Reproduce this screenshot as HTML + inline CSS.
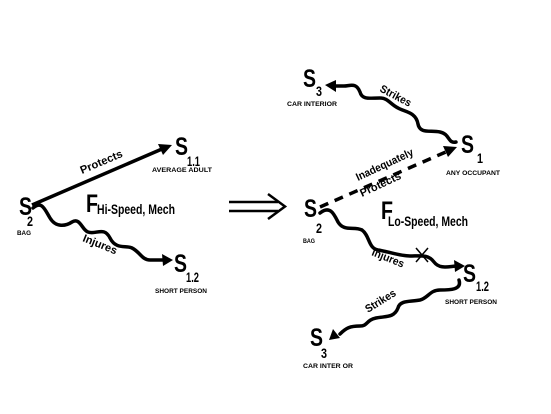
<!DOCTYPE html>
<html><head><meta charset="utf-8"><style>
html,body{margin:0;padding:0;background:#fff}
svg{display:block}
text{font-family:"Liberation Sans",sans-serif;font-weight:bold;fill:#000}
.S{font-size:25px}
.sub{font-size:14px}
.sm{font-size:6px}
.lb{font-size:11px;font-weight:bold}
.w{fill:none;stroke:#000;stroke-width:3.5;stroke-linecap:round}
</style></head><body>
<svg width="551" height="414" viewBox="0 0 551 414" xmlns="http://www.w3.org/2000/svg">
<!-- LEFT -->
<text class="S" x="19" y="215" textLength="13" lengthAdjust="spacingAndGlyphs">S</text>
<text class="sub" x="27" y="226" textLength="6" lengthAdjust="spacingAndGlyphs">2</text>
<text class="sm" x="17" y="235" textLength="14" lengthAdjust="spacingAndGlyphs">BAG</text>
<line x1="32" y1="205" x2="162" y2="149" stroke="#000" stroke-width="3.5"/>
<polygon points="172,145 158,144 163,155" fill="#000"/>
<text class="lb" transform="translate(82,174) rotate(-23)" textLength="45" lengthAdjust="spacingAndGlyphs">Protects</text>
<text class="S" x="175" y="155" textLength="13" lengthAdjust="spacingAndGlyphs">S</text>
<text class="sub" x="187" y="166" textLength="13" lengthAdjust="spacingAndGlyphs">1.1</text>
<text class="sm" x="152" y="172" textLength="60" lengthAdjust="spacingAndGlyphs">AVERAGE ADULT</text>
<text class="S" x="86" y="212" textLength="12" lengthAdjust="spacingAndGlyphs">F</text>
<text class="sub" x="97" y="214" textLength="78" lengthAdjust="spacingAndGlyphs">Hi-Speed, Mech</text>
<path class="w" d="M33,208 C42,200 45,210 50,218 C56,228 66,226 72,222 C80,217 82,230 88,232 C96,235 104,226 110,238 C116,250 126,245 132,248 C140,252 142,260 150,260 L166,260"/>
<polygon points="173,260 162,254 163,266" fill="#000"/>
<text class="lb" transform="translate(82,241) rotate(22)" textLength="36" lengthAdjust="spacingAndGlyphs">Injures</text>
<text class="S" x="174" y="272" textLength="13" lengthAdjust="spacingAndGlyphs">S</text>
<text class="sub" x="186" y="282" textLength="13" lengthAdjust="spacingAndGlyphs">1.2</text>
<text class="sm" x="155" y="293" textLength="52" lengthAdjust="spacingAndGlyphs">SHORT PERSON</text>
<!-- implies -->
<line x1="229" y1="202" x2="278" y2="202" stroke="#000" stroke-width="2.5"/>
<line x1="229" y1="211" x2="278" y2="211" stroke="#000" stroke-width="2.5"/>
<path d="M268,194 L285,206.5 L268,219" fill="none" stroke="#000" stroke-width="2.5"/>
<!-- RIGHT top -->
<text class="S" x="303" y="87" textLength="13" lengthAdjust="spacingAndGlyphs">S</text>
<text class="sub" x="316" y="96" textLength="6" lengthAdjust="spacingAndGlyphs">3</text>
<text class="sm" x="287" y="106" textLength="50" lengthAdjust="spacingAndGlyphs">CAR INTERIOR</text>
<path class="w" d="M456,142 C448,144 450,134 440,132 C430,130 420,134 418,124 C416,112 405,112 398,108 C390,104 388,98 380,98 C370,98 362,100 360,92 C356,82 350,86 344,86 L332,86"/>
<polygon points="325,85 336,80 336,92" fill="#000"/>
<text class="lb" transform="translate(379,91) rotate(28)" textLength="34" lengthAdjust="spacingAndGlyphs">Strikes</text>
<text class="S" x="461" y="153" textLength="13" lengthAdjust="spacingAndGlyphs">S</text>
<text class="sub" x="477" y="163" textLength="6" lengthAdjust="spacingAndGlyphs">1</text>
<text class="sm" x="446" y="175" textLength="54" lengthAdjust="spacingAndGlyphs">ANY OCCUPANT</text>
<line x1="320" y1="207" x2="448" y2="151" stroke="#000" stroke-width="3.5" stroke-dasharray="9,7"/>
<polygon points="457,147 443,146 448,157" fill="#000"/>
<text class="lb" transform="translate(358,181) rotate(-25)" textLength="62" lengthAdjust="spacingAndGlyphs">Inadequately</text>
<text class="lb" transform="translate(362,197) rotate(-25)" textLength="44" lengthAdjust="spacingAndGlyphs">Protects</text>
<text class="S" x="304" y="217" textLength="13" lengthAdjust="spacingAndGlyphs">S</text>
<text class="sub" x="316" y="233" textLength="6" lengthAdjust="spacingAndGlyphs">2</text>
<text class="sm" x="303" y="243" textLength="12" lengthAdjust="spacingAndGlyphs">BAG</text>
<text class="S" x="381" y="219" textLength="12" lengthAdjust="spacingAndGlyphs">F</text>
<text class="sub" x="388" y="226" textLength="80" lengthAdjust="spacingAndGlyphs">Lo-Speed, Mech</text>
<path class="w" d="M320,213 C330,205 334,214 338,222 C344,232 354,226 362,230 C370,236 368,248 378,250 C390,252 400,256 410,256 C420,256 428,254 434,262 C440,270 450,266 458,266"/>
<polygon points="465,266 454,260 455,272" fill="#000"/>
<line x1="416" y1="248" x2="428" y2="262" stroke="#000" stroke-width="1.5"/>
<line x1="428" y1="248" x2="416" y2="262" stroke="#000" stroke-width="1.5"/>
<text class="lb" transform="translate(371,255) rotate(22)" textLength="34" lengthAdjust="spacingAndGlyphs">Injures</text>
<text class="S" x="463" y="282" textLength="13" lengthAdjust="spacingAndGlyphs">S</text>
<text class="sub" x="476" y="291" textLength="13" lengthAdjust="spacingAndGlyphs">1.2</text>
<text class="sm" x="445" y="304" textLength="52" lengthAdjust="spacingAndGlyphs">SHORT PERSON</text>
<path class="w" d="M459,280 C462,290 450,290 440,290 C430,290 428,298 420,300 C410,302 400,300 398,308 C394,318 386,316 376,318 C366,320 368,326 360,326 C350,326 346,328 340,334"/>
<polygon points="329,340 333,329 340,338" fill="#000"/>
<text class="lb" transform="translate(368,313) rotate(-32)" textLength="34" lengthAdjust="spacingAndGlyphs">Strikes</text>
<text class="S" x="310" y="346" textLength="13" lengthAdjust="spacingAndGlyphs">S</text>
<text class="sub" x="321" y="358" textLength="6" lengthAdjust="spacingAndGlyphs">3</text>
<text class="sm" x="303" y="368" textLength="50" lengthAdjust="spacingAndGlyphs">CAR INTER OR</text>
</svg>
</body></html>
